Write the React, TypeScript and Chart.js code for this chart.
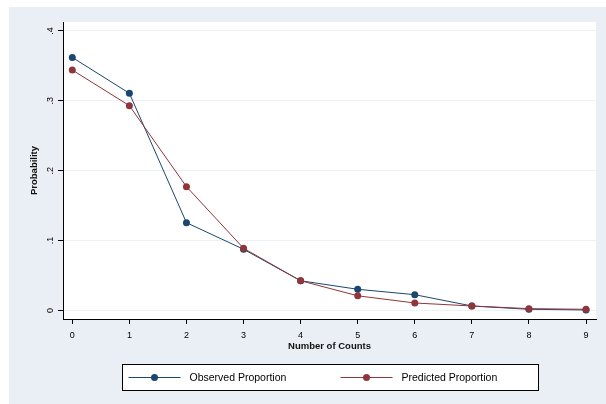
import React, { useEffect, useRef } from "react";
import { Chart, registerables } from "chart.js";

Chart.register(...registerables);

// ---- data ----
const counts = [0, 1, 2, 3, 4, 5, 6, 7, 8, 9];
const observed = [0.362, 0.3107, 0.1256, 0.0876, 0.0425, 0.0303, 0.0226, 0.0064, 0.0017, 0.0007];
const predicted = [0.344, 0.293, 0.1771, 0.089, 0.0425, 0.021, 0.0107, 0.0064, 0.0026, 0.0017];
const seriesNames = ["Observed Proportion", "Predicted Proportion"];
const yTicks = [0, 0.1, 0.2, 0.3, 0.4];
const yTickLabels = ["0", ".1", ".2", ".3", ".4"];
const xTicks = [0, 1, 2, 3, 4, 5, 6, 7, 8, 9];
const xTitle = "Number of Counts";
const yTitle = "Probability";

// ---- styles ----
const FONT = "'Liberation Sans', Arial, sans-serif";
const BG = "#eaeff5";
const NAVY = "#1a476f";
const MAROON = "#90353b";
const GRID = "#edf1f5";

const bgPlugin = {
  id: "stataBg",
  beforeDraw(chart: any) {
    const { ctx, width, height, chartArea: ca } = chart;
    ctx.save();
    ctx.fillStyle = "#ffffff";
    ctx.fillRect(0, 0, width, height);
    ctx.fillStyle = BG;
    ctx.fillRect(9, 7, width - 9, height - 7);
    ctx.fillStyle = "#ffffff";
    ctx.fillRect(ca.left, ca.top, ca.right - ca.left, ca.bottom - ca.top);
    ctx.restore();
  },
};

const yLabelPlugin = {
  id: "yRotLabels",
  afterDraw(chart: any) {
    const { ctx, chartArea: ca } = chart;
    const ys = chart.scales.y;
    ctx.save();
    ctx.fillStyle = "#000";
    ctx.font = `9px ${FONT}`;
    ctx.textAlign = "center";
    ctx.textBaseline = "alphabetic";
    ys.ticks.forEach((t: any) => {
      const idx = yTicks.indexOf(t.value);
      const label = idx >= 0 ? yTickLabels[idx] : String(t.value);
      const y = ys.getPixelForValue(t.value);
      ctx.save();
      ctx.translate(ca.left - 10.5, y);
      ctx.rotate(-Math.PI / 2);
      ctx.fillText(label, 0, 0);
      ctx.restore();
    });
    ctx.font = `bold 9.5px ${FONT}`;
    ctx.fillStyle = "#111";
    ctx.textBaseline = "middle";
    ctx.translate(34, (ca.top + ca.bottom) / 2);
    ctx.rotate(-Math.PI / 2);
    ctx.fillText(yTitle, 0, 0);
    ctx.restore();
  },
};

const legendPlugin = {
  id: "boxLegend",
  afterDraw(chart: any) {
    const { ctx, chartArea: ca } = chart;
    const cx = (ca.left + ca.right) / 2;
    const w = 416;
    const h = 26;
    const left = Math.round(cx - w / 2) + 0.5;
    const top = 364.5;
    ctx.save();
    ctx.fillStyle = "#ffffff";
    ctx.fillRect(left, top, w, h);
    ctx.strokeStyle = "#000";
    ctx.lineWidth = 1;
    ctx.strokeRect(left, top, w, h);
    const offs = [6, 218];
    chart.data.datasets.forEach((ds: any, i: number) => {
      const x0 = left + offs[i];
      const ly = top + 13;
      ctx.strokeStyle = ds.borderColor;
      ctx.lineWidth = 1;
      ctx.beginPath();
      ctx.moveTo(x0, ly);
      ctx.lineTo(x0 + 52, ly);
      ctx.stroke();
      ctx.fillStyle = ds.pointBackgroundColor;
      ctx.beginPath();
      ctx.arc(x0 + 26, ly, 3.5, 0, Math.PI * 2);
      ctx.fill();
      ctx.fillStyle = "#000";
      ctx.font = `10.5px ${FONT}`;
      ctx.textAlign = "left";
      ctx.textBaseline = "middle";
      ctx.fillText(ds.label, x0 + 61, ly + 0.5);
    });
    ctx.restore();
  },
};

export default function App() {
  const ref = useRef<HTMLCanvasElement | null>(null);
  useEffect(() => {
    if (!ref.current) return;
    const chart = new Chart(ref.current, {
      type: "line",
      data: {
        datasets: [
          {
            label: seriesNames[0],
            data: counts.map((c, i) => ({ x: c, y: observed[i] })),
            borderColor: NAVY,
            backgroundColor: NAVY,
            pointBackgroundColor: NAVY,
            pointBorderWidth: 0,
            pointRadius: 3.5,
            borderWidth: 1,
            tension: 0,
            fill: false,
            order: 1,
          },
          {
            label: seriesNames[1],
            data: counts.map((c, i) => ({ x: c, y: predicted[i] })),
            borderColor: MAROON,
            backgroundColor: MAROON,
            pointBackgroundColor: MAROON,
            pointBorderWidth: 0,
            pointRadius: 3.5,
            borderWidth: 1,
            tension: 0,
            fill: false,
            order: 0,
          },
        ],
      },
      options: {
        animation: false,
        responsive: false,
        events: [],
        layout: { padding: { top: 22, right: 10, left: 0, bottom: 0 } },
        plugins: { legend: { display: false }, tooltip: { enabled: false } },
        scales: {
          x: {
            type: "linear",
            min: -0.163,
            max: 9.175,
            afterBuildTicks: (s: any) => {
              s.ticks = xTicks.map((v) => ({ value: v }));
            },
            afterFit: (s: any) => {
              s.height = 85;
            },
            grid: { drawOnChartArea: false, drawTicks: true, tickLength: 5, tickColor: "#000", tickWidth: 1 },
            border: { display: true, color: "#000", width: 1 },
            ticks: {
              font: { family: FONT, size: 9 },
              color: "#000",
              padding: 6,
              maxRotation: 0,
              autoSkip: false,
              callback: (v: any) => String(v),
            },
            title: {
              display: true,
              text: xTitle,
              font: { family: FONT, size: 9.5, weight: "bold" },
              color: "#111",
              padding: { top: 0, bottom: 52 },
            },
          },
          y: {
            type: "linear",
            min: -0.0122,
            max: 0.4127,
            afterBuildTicks: (s: any) => {
              s.ticks = yTicks.map((v) => ({ value: v }));
            },
            afterFit: (s: any) => {
              s.width = 63;
            },
            grid: { color: GRID, lineWidth: 1, drawTicks: true, tickLength: 5, tickColor: "#000" },
            border: { display: true, color: "#000", width: 1 },
            ticks: { display: false },
          },
        },
      } as any,
      plugins: [bgPlugin, yLabelPlugin, legendPlugin],
    });
    return () => chart.destroy();
  }, []);
  return (
    <div style={{ position: "absolute", left: 0, top: 0, width: 606, height: 404 }}>
      <canvas ref={ref} width={606} height={404} style={{ display: "block", width: 606, height: 404 }} />
    </div>
  );
}
